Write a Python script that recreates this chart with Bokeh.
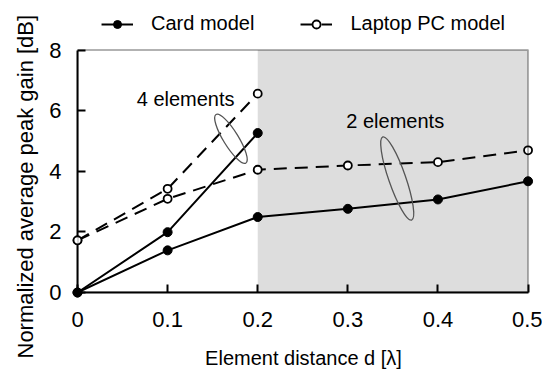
from bokeh.plotting import figure
from bokeh.models import Range1d, BoxAnnotation, Legend, LegendItem, Label, FixedTicker, Title
from bokeh.embed import file_html
from bokeh.resources import INLINE

# ---- data ----
d_all = [0.0, 0.1, 0.2, 0.3, 0.4, 0.5]
card_2el = [0.0, 1.39, 2.49, 2.76, 3.07, 3.67]
laptop_2el = [1.72, 3.09, 4.05, 4.19, 4.30, 4.69]
d_4el = [0.0, 0.1, 0.2]
card_4el = [0.0, 1.99, 5.26]
laptop_4el = [1.72, 3.42, 6.56]
x_ticks = [0.0, 0.1, 0.2, 0.3, 0.4, 0.5]
x_tick_labels = ["0", "0.1", "0.2", "0.3", "0.4", "0.5"]
y_ticks = [0, 2, 4, 6, 8]
x_min, x_max = 0.0, 0.5
y_min, y_max = 0, 8
shaded_left, shaded_right = 0.2, 0.5

FONT = "Liberation Sans"

# frame extends above y=8 to hold the legend (plot box drawn separately)
y_view_top = 9.633
x_view_right = 0.5016

p = figure(width=542, height=372, x_range=Range1d(x_min, x_view_right), y_range=Range1d(y_min, y_view_top),
           output_backend="svg", toolbar_location=None,
           min_border_left=77, min_border_right=13, min_border_top=0, min_border_bottom=80)
p.grid.visible = False
p.outline_line_color = None
p.background_fill_color = "white"
p.border_fill_color = "white"

p.add_layout(BoxAnnotation(left=shaded_left, right=shaded_right, bottom=y_min, top=y_max,
                           fill_color="#dddddd", fill_alpha=1, line_color=None, level="underlay"))
p.add_layout(BoxAnnotation(left=x_min, right=x_max, bottom=y_min, top=y_max,
                           fill_alpha=0, line_color="black", line_width=2, level="overlay"))

for ax in (p.xaxis[0], p.yaxis[0]):
    ax.major_tick_in = 8
    ax.major_tick_out = 0
    ax.minor_tick_line_color = None
    ax.major_tick_line_width = 2
    ax.major_tick_line_color = "black"
    ax.axis_line_width = 2
    ax.axis_line_color = "black"
    ax.major_label_text_font = FONT
    ax.major_label_text_font_size = "22px"
    ax.major_label_text_color = "black"

p.xaxis.bounds = (x_min, x_max)
p.yaxis.bounds = (y_min, y_max)
p.xaxis.major_label_standoff = 19
p.yaxis.major_label_standoff = 16
p.xaxis.ticker = FixedTicker(ticks=x_ticks)
p.xaxis.major_label_overrides = dict(zip(x_ticks, x_tick_labels))
p.yaxis.ticker = FixedTicker(ticks=y_ticks)

p.xaxis.axis_label = "Element distance d [λ]"
p.xaxis.axis_label_text_font = FONT
p.xaxis.axis_label_text_font_size = "20px"
p.xaxis.axis_label_text_font_style = "normal"
p.xaxis.axis_label_text_color = "black"
p.xaxis.axis_label_standoff = 17

# y-axis title, anchored below the frame bottom like the reference
p.add_layout(Title(text="Normalized average peak gain  [dB]", align="left", offset=-66,
                   text_font=FONT, text_font_size="22px", text_font_style="normal",
                   text_color="black", standoff=18), "left")

# lines
dash = "13 8"
lap2_line = p.line(d_all, laptop_2el, line_color="black", line_width=2, line_dash=dash)
lap4_line = p.line(d_4el, laptop_4el, line_color="black", line_width=2, line_dash=dash)
card2_line = p.line(d_all, card_2el, line_color="black", line_width=2)
card4_line = p.line(d_4el, card_4el, line_color="black", line_width=2)

card2_pts = p.scatter(d_all, card_2el, size=9, marker="circle", fill_color="black", line_color="black")
card4_pts = p.scatter(d_4el, card_4el, size=9, marker="circle", fill_color="black", line_color="black")
lap2_pts = p.scatter(d_all, laptop_2el, size=8, marker="circle", fill_color="white", line_color="black", line_width=1.8)
lap4_pts = p.scatter(d_4el, laptop_4el, size=8, marker="circle", fill_color="white", line_color="black", line_width=1.8)
for r in (card2_pts, card4_pts, lap2_pts, lap4_pts):
    r.level = "overlay"

# group ellipses
p.ellipse(x=[0.1703, 0.3548], y=[5.07, 3.76], width=[57, 88], height=[15, 17],
          angle=[-1.018, -1.237], width_units="screen", height_units="screen",
          fill_color=None, line_color="#555555", line_width=1.3)

p.add_layout(Label(x=0.120, y=6.40, text="4 elements", text_align="center", text_baseline="middle",
                   text_font=FONT, text_font_size="20px", text_color="black"))
p.add_layout(Label(x=0.3526, y=5.65, text="2 elements", text_align="center", text_baseline="middle",
                   text_font=FONT, text_font_size="20px", text_color="black"))

legend = Legend(items=[LegendItem(label="Card model", renderers=[card2_line, card2_pts]),
                       LegendItem(label="Laptop PC model", renderers=[lap2_line, lap2_pts])],
                location="top_center", orientation="horizontal", padding=0, margin=12, spacing=46,
                glyph_width=32, glyph_height=20, label_standoff=18,
                label_text_font=FONT, label_text_font_size="20px", label_text_color="black",
                border_line_color=None, background_fill_alpha=0)
p.add_layout(legend)

open("out.html", "w").write(file_html(p, INLINE))
